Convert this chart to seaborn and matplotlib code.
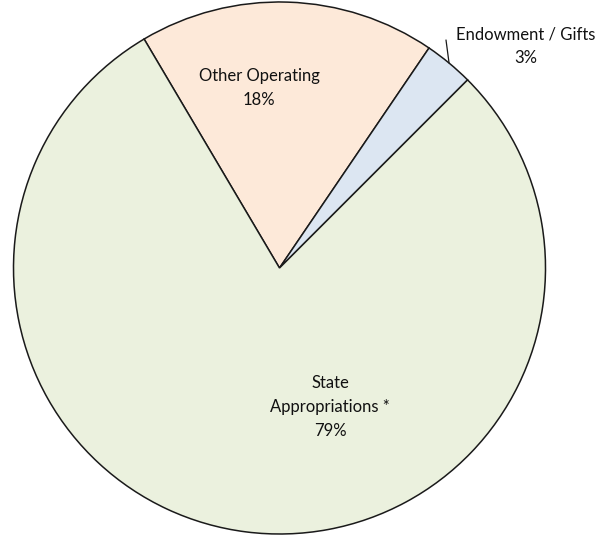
import numpy as np
import matplotlib
matplotlib.use("Agg")
import matplotlib.pyplot as plt
import seaborn as sns

# Revenue sources (percent of total)
categories = ["Other Operating", "Endowment / Gifts", "State\nAppropriations *"]
shares = [18, 3, 79]
colors = ["#FDE9D9", "#DCE6F2", "#EBF1DE"]

sns.set_theme(style="white")
plt.rcParams["font.family"] = ["Lato", "DejaVu Sans"]

W, H = 608, 536
fig = plt.figure(figsize=(W / 100, H / 100), dpi=100)
ax = fig.add_axes([0, 0, 1, 1])

center = (279.5, 268.0)
radius = 266.0
start = 120.6

wedges, _ = ax.pie(
    shares,
    colors=colors,
    startangle=start,
    counterclock=False,
    center=center,
    radius=radius,
    wedgeprops=dict(edgecolor="#1a1a1a", linewidth=1.1),
    frame=True,
)
ax.set_xlim(0, W)
ax.set_ylim(0, H)
ax.set_aspect("equal")
ax.axis("off")

fs = 12
ls = 1.6
labels = [f"{c}\n{v}%" for c, v in zip(categories, shares)]

# Other Operating label inside its wedge
ax.text(259, H - 88, labels[0], ha="center", va="center", fontsize=fs,
        linespacing=ls, color="#111111")
# State Appropriations label
ax.text(330, H - 407, labels[2], ha="center", va="center", fontsize=fs,
        linespacing=ls, color="#111111")

# Endowment label outside with a short leader line to the rim
w = wedges[1]
ang = np.deg2rad((w.theta1 + w.theta2) / 2)
rim = (center[0] + radius * np.cos(ang), center[1] + radius * np.sin(ang))
ax.annotate("", xy=rim, xytext=(446, H - 40),
            arrowprops=dict(arrowstyle="-", color="#1a1a1a", lw=0.9,
                            shrinkA=0, shrinkB=0))
ax.text(526, H - 46, labels[1], ha="center", va="center", fontsize=fs,
        linespacing=ls, color="#111111")

fig.savefig("out.png", dpi=100, facecolor="white")
